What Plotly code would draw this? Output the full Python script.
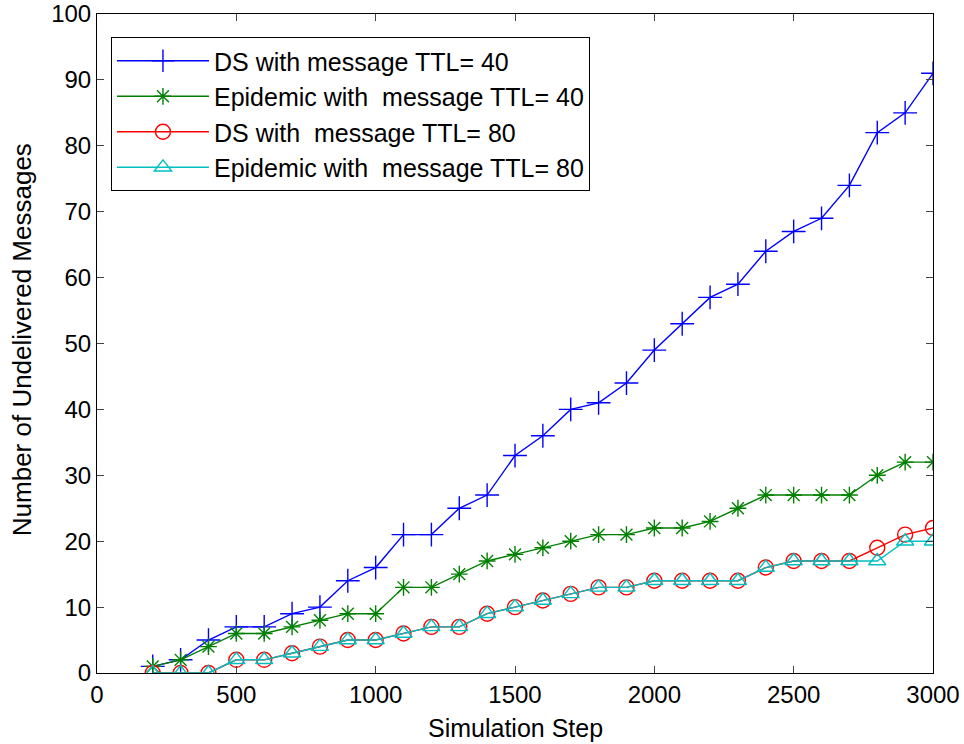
import plotly.graph_objects as go

steps = list(range(200, 3001, 100))
ds_ttl40 = [1, 2, 5, 7, 7, 9, 10, 14, 16, 21, 21, 25, 27, 33, 36, 40, 41, 44, 49, 53, 57, 59, 64, 67, 69, 74, 82, 85, 91]
epi_ttl40 = [1, 2, 4, 6, 6, 7, 8, 9, 9, 13, 13, 15, 17, 18, 19, 20, 21, 21, 22, 22, 23, 25, 27, 27, 27, 27, 30, 32, 32]
ds_ttl80 = [0, 0, 0, 2, 2, 3, 4, 5, 5, 6, 7, 7, 9, 10, 11, 12, 13, 13, 14, 14, 14, 14, 16, 17, 17, 17, 19, 21, 22]
epi_ttl80 = [0, 0, 0, 2, 2, 3, 4, 5, 5, 6, 7, 7, 9, 10, 11, 12, 13, 13, 14, 14, 14, 14, 16, 17, 17, 17, 17, 20, 20]

names = ["DS with message TTL= 40", "Epidemic with  message TTL= 40",
         "DS with  message TTL= 80", "Epidemic with  message TTL= 80"]
series = [ds_ttl40, epi_ttl40, ds_ttl80, epi_ttl80]
colors = ["#0000ff", "#008000", "#ff0000", "#00bfbf"]
symbols = ["cross-thin-open", "asterisk-open", "circle-open", "triangle-up-open"]
sizes = [17, 14, 15, 15]

x_title = "Simulation Step"
y_title = "Number of Undelivered Messages"

fig = go.Figure()
for n, s, c, sym, sz in zip(names, series, colors, symbols, sizes):
    fig.add_trace(go.Scatter(
        x=steps, y=s, name=n, mode="lines+markers",
        line=dict(color=c, width=1.4),
        marker=dict(symbol=sym, size=sz, color=c, line=dict(color=c, width=1.4)),
    ))

fig.update_layout(
    width=964, height=744,
    margin=dict(l=97, r=31, t=14, b=71, autoexpand=False),
    paper_bgcolor="white", plot_bgcolor="white",
    font=dict(family="Liberation Sans, Arial, sans-serif", size=24, color="black"),
    showlegend=True,
    legend=dict(x=0.0167, y=0.965, xanchor="left", yanchor="top",
                bordercolor="black", borderwidth=1, bgcolor="white",
                font=dict(size=25), tracegroupgap=0, itemwidth=92),
    annotations=[
        dict(text=x_title, xref="paper", yref="paper", x=0.5, y=-0.0835,
             xanchor="center", yanchor="middle", showarrow=False, font=dict(size=25)),
        dict(text=y_title, xref="paper", yref="paper", x=-0.0897, y=0.505,
             xanchor="center", yanchor="middle", showarrow=False, textangle=-90,
             font=dict(size=26)),
    ],
)
fig.update_xaxes(range=[0, 3000], tickvals=[0, 500, 1000, 1500, 2000, 2500, 3000],
                 ticks="inside", ticklen=7, showgrid=False, zeroline=False, automargin=False,
                 showline=True, linecolor="black", linewidth=1, mirror="ticks")
fig.update_yaxes(range=[0, 100], dtick=10,
                 ticks="inside", ticklen=7, showgrid=False, zeroline=False, automargin=False,
                 showline=True, linecolor="black", linewidth=1, mirror="ticks")

fig.write_html("out.html", config={"displayModeBar": False},
               post_script="document.body.style.margin='0';")
